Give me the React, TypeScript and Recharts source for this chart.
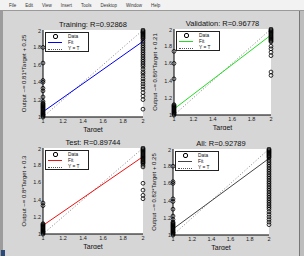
import React from "react";
import { ComposedChart, Line, Scatter, XAxis, YAxis, CartesianGrid } from "recharts";

// axis ticks shared by all four regression plots
const axisTicks = [1, 1.2, 1.4, 1.6, 1.8, 2];
const menuItems = ["File", "Edit", "View", "Insert", "Tools", "Desktop", "Window", "Help"];

// outputs observed for target 1 and target 2
const trainLow = [1.0, 1.01, 1.02, 1.03, 1.04, 1.05, 1.06, 1.07, 1.08, 1.09, 1.1, 1.11, 1.12, 1.13, 1.14, 1.15, 1.16, 1.18, 1.23, 1.3, 1.33, 1.4, 1.42, 1.62, 1.8];
const trainHigh = [2.0, 1.99, 1.98, 1.97, 1.96, 1.95, 1.94, 1.93, 1.92, 1.91, 1.9, 1.88, 1.86, 1.84, 1.82, 1.8, 1.78, 1.76, 1.74, 1.72, 1.7, 1.68, 1.66, 1.64, 1.62, 1.6, 1.58, 1.55, 1.52, 1.5, 1.47, 1.44, 1.41, 1.38, 1.35, 1.32, 1.28, 1.24, 1.2, 1.09];
const valLow = [1.0, 1.01, 1.02, 1.03, 1.04, 1.05, 1.06, 1.07, 1.08, 1.09, 1.1, 1.11, 1.12, 1.42, 1.6, 1.74];
const valHigh = [2.0, 1.99, 1.98, 1.97, 1.96, 1.95, 1.94, 1.93, 1.92, 1.91, 1.9, 1.89, 1.88, 1.87, 1.86, 1.85, 1.8, 1.77, 1.73, 1.69, 1.5, 1.46];
const testLow = [1.0, 1.01, 1.02, 1.03, 1.04, 1.05, 1.06, 1.07, 1.08, 1.09, 1.1, 1.11, 1.12, 1.33, 1.36];
const testHigh = [2.0, 1.99, 1.98, 1.97, 1.96, 1.95, 1.94, 1.93, 1.92, 1.91, 1.9, 1.89, 1.88, 1.87, 1.86, 1.85, 1.84, 1.83, 1.82, 1.8, 1.78, 1.59, 1.51, 1.45, 1.41];
const allLow = [1.0, 1.01, 1.02, 1.03, 1.04, 1.05, 1.06, 1.07, 1.08, 1.09, 1.1, 1.11, 1.12, 1.13, 1.14, 1.15, 1.18, 1.22, 1.3, 1.39, 1.42, 1.6, 1.62, 1.8];
const allHigh = [2.0, 1.99, 1.98, 1.97, 1.96, 1.95, 1.94, 1.93, 1.92, 1.91, 1.9, 1.88, 1.86, 1.84, 1.82, 1.8, 1.78, 1.76, 1.74, 1.72, 1.7, 1.68, 1.66, 1.64, 1.62, 1.6, 1.58, 1.56, 1.54, 1.52, 1.5, 1.48, 1.46, 1.44, 1.42, 1.4, 1.38, 1.36, 1.34, 1.32, 1.3, 1.27, 1.24, 1.21, 1.18, 1.15, 1.12];

// fit line values at target 1 and target 2
const trainFit = [1.06, 1.87];
const valFit = [1.07, 1.93];
const testFit = [1.1, 1.9];
const allFit = [1.07, 1.89];
const identity = [1, 2];

const toPoints = (low: number[], high: number[]) => [
  ...low.map((y) => ({ x: 1, y })),
  ...high.map((y) => ({ x: 2, y })),
];
const toLine = (ends: number[]) => [
  { x: 1, y: ends[0] },
  { x: 2, y: ends[1] },
];

const FONT = "'Liberation Sans', Arial, sans-serif";
const Y_W = 30;
const M_TOP = 2;
const M_RIGHT = 4;
const X_H = 15;

const Ring = (p: any) => (
  <circle cx={p.cx} cy={p.cy} r={1.9} fill="none" stroke="#000" strokeWidth={0.8} />
);

interface PanelProps {
  title: string;
  yLabel: string;
  color: string;
  low: number[];
  high: number[];
  fit: number[];
  left: number;
  top: number;
  w: number;
  h: number;
}

function Panel({ title, yLabel, color, low, high, fit, left, top, w, h }: PanelProps) {
  const tick = { fontSize: 5.5, fill: "#222", fontFamily: FONT };
  return (
    <>
      <div
        style={{
          position: "absolute",
          left: left - 20,
          top: top - 10,
          width: w + 40,
          textAlign: "center",
          fontSize: 7.5,
          color: "#111",
          fontFamily: FONT,
          lineHeight: "9px",
        }}
      >
        {title}
      </div>
      <div style={{ position: "absolute", left: left - Y_W, top: top - M_TOP }}>
        <ComposedChart
          width={Y_W + w + M_RIGHT}
          height={M_TOP + h + X_H}
          margin={{ top: M_TOP, right: M_RIGHT, left: 0, bottom: 0 }}
        >
          <CartesianGrid horizontal={false} vertical={false} fill="#fff" />
          <XAxis
            dataKey="x"
            type="number"
            domain={[1, 2]}
            ticks={axisTicks}
            tick={tick}
            tickLine={false}
            tickSize={1}
            tickMargin={1}
            height={X_H}
            stroke="#000"
            allowDuplicatedCategory={false}
            label={{ value: "Target", position: "insideBottom", offset: 0, fontSize: 7, fill: "#111", fontFamily: FONT }}
          />
          <XAxis xAxisId="top" orientation="top" type="number" domain={[1, 2]} tick={false} tickLine={false} height={0} stroke="#000" />
          <YAxis
            dataKey="y"
            type="number"
            domain={[1, 2]}
            ticks={axisTicks}
            tick={tick}
            tickLine={false}
            tickSize={1}
            tickMargin={1}
            width={Y_W}
            stroke="#000"
            label={{
              value: yLabel,
              angle: -90,
              position: "insideLeft",
              offset: 11,
              fontSize: 6,
              fill: "#111",
              fontFamily: FONT,
              style: { textAnchor: "middle" },
            }}
          />
          <YAxis yAxisId="right" orientation="right" type="number" domain={[1, 2]} tick={false} tickLine={false} width={0} stroke="#000" />
          <Line
            data={toLine(identity)}
            dataKey="y"
            stroke="#666"
            strokeWidth={0.8}
            strokeDasharray="1 2"
            dot={false}
            isAnimationActive={false}
          />
          <Line
            data={toLine(fit)}
            dataKey="y"
            stroke={color}
            strokeWidth={1}
            dot={false}
            isAnimationActive={false}
          />
          <Scatter data={toPoints(low, high)} dataKey="y" shape={Ring} isAnimationActive={false} />
        </ComposedChart>
      </div>
      <div
        style={{
          position: "absolute",
          left: left + 2,
          top: top + 2,
          width: 44,
          height: 20,
          background: "#fff",
          border: "0.8px solid #222",
          fontFamily: FONT,
          fontSize: 4.8,
          color: "#111",
          lineHeight: "6.3px",
          boxSizing: "border-box",
          paddingTop: 0.5,
        }}
      >
        {[
          { name: "Data", kind: "o" },
          { name: "Fit", kind: "fit" },
          { name: "Y = T", kind: "dot" },
        ].map((e) => (
          <div key={e.name} style={{ display: "flex", alignItems: "center", height: 6.3 }}>
            <div style={{ width: 18, display: "flex", justifyContent: "center" }}>
              {e.kind === "o" ? (
                <div style={{ width: 3, height: 3, borderRadius: 2, border: "0.6px solid #000" }} />
              ) : (
                <div
                  style={{
                    width: 14,
                    borderTop: e.kind === "fit" ? `1px solid ${color}` : "0.8px dotted #555",
                  }}
                />
              )}
            </div>
            <span style={{ marginLeft: 4 }}>{e.name}</span>
          </div>
        ))}
      </div>
    </>
  );
}

export default function App() {
  return (
    <div
      style={{
        position: "fixed",
        left: 0,
        top: 0,
        width: 304,
        height: 256,
        background: "#d6d6d6",
        overflow: "hidden",
        fontFamily: FONT,
      }}
    >
      <div
        style={{
          position: "absolute",
          left: 0,
          top: 0,
          width: 304,
          height: 10,
          background: "#f2f2f2",
          borderBottom: "1px solid #9a9a9a",
          display: "flex",
          alignItems: "center",
          fontSize: 4.5,
          color: "#333",
        }}
      >
        {menuItems.map((m) => (
          <span key={m} style={{ marginLeft: 9 }}>
            {m}
          </span>
        ))}
      </div>
      <div style={{ position: "absolute", left: 0, top: 11, width: 3, height: 245, background: "#9c9c9c" }} />
      <div style={{ position: "absolute", left: 299, top: 11, width: 1, height: 245, background: "#777" }} />
      <div style={{ position: "absolute", left: 300, top: 11, width: 4, height: 245, background: "#bdbdbd" }} />
      <div style={{ position: "absolute", left: 1, top: 250, width: 4, height: 6, background: "#2a4a7a" }} />

      <Panel title="Training: R=0.92868" yLabel="Output ~= 0.81*Target + 0.25" color="#0000ee"
        low={trainLow} high={trainHigh} fit={trainFit} left={43} top={30} w={100} h={87} />
      <Panel title="Validation: R=0.96778" yLabel="Output ~= 0.86*Target + 0.21" color="#22dd22"
        low={valLow} high={valHigh} fit={valFit} left={174} top={29} w={97} h={86} />
      <Panel title="Test: R=0.89744" yLabel="Output ~= 0.8*Target + 0.3" color="#ee1111"
        low={testLow} high={testHigh} fit={testFit} left={43} top={148} w={100} h={86} />
      <Panel title="All: R=0.92789" yLabel="Output ~= 0.82*Target + 0.25" color="#444"
        low={allLow} high={allHigh} fit={allFit} left={173} top={149} w={96} h={86} />
    </div>
  );
}
